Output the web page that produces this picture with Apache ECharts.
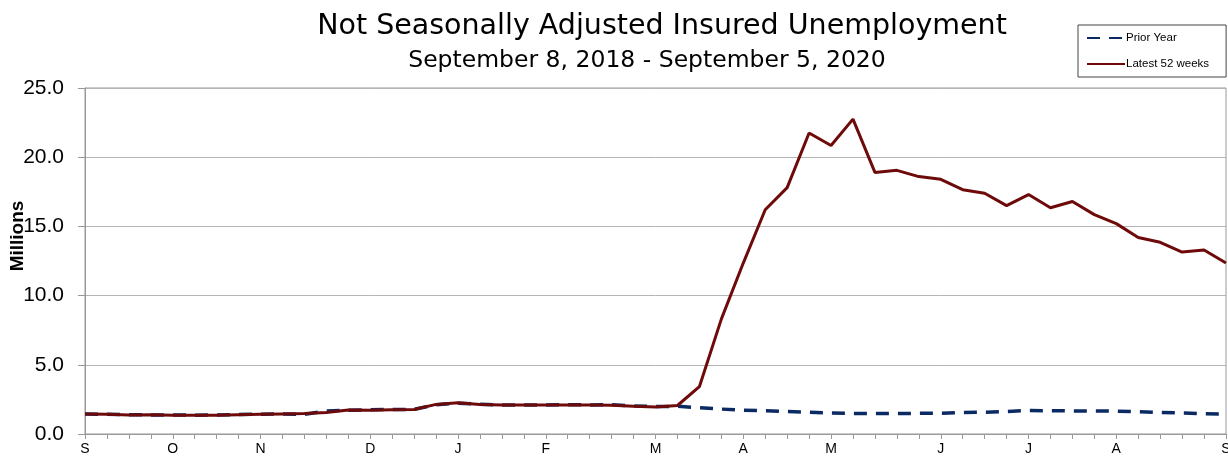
<!DOCTYPE html>
<html>
<head>
<meta charset="utf-8">
<script src="https://cdn.jsdelivr.net/npm/echarts@6/dist/echarts.min.js"></script>
<style>
html, body { margin: 0; padding: 0; background: #fff; }
#container { width: 1228px; height: 457px; }
</style>
</head>
<body>
<div id="container"></div>
<script>
// week index 0..52, labels only on the first week of each month
var weekLabels = ['S','','','','O','','','','N','','','','','D','','','','J','','','','F','','','','','M','','','','A','','','','M','','','','','J','','','','J','','','','A','','','','','S'];

var priorYear = [1.45, 1.42, 1.40, 1.37, 1.38, 1.36, 1.37, 1.40, 1.43, 1.44, 1.42, 1.66, 1.72, 1.75, 1.77, 1.78, 2.12, 2.22, 2.15, 2.10, 2.10, 2.10, 2.12, 2.10, 2.12, 2.03, 1.98, 2.00, 1.90, 1.80, 1.71, 1.68, 1.62, 1.57, 1.52, 1.49, 1.49, 1.49, 1.49, 1.50, 1.56, 1.57, 1.62, 1.70, 1.68, 1.67, 1.66, 1.65, 1.62, 1.55, 1.52, 1.46, 1.45];

var latest52 = [1.45, 1.43, 1.38, 1.39, 1.36, 1.35, 1.36, 1.39, 1.42, 1.45, 1.48, 1.56, 1.73, 1.72, 1.76, 1.77, 2.14, 2.25, 2.14, 2.10, 2.10, 2.10, 2.10, 2.09, 2.08, 2.00, 1.95, 2.06, 3.42, 8.30, 12.35, 16.20, 17.80, 21.75, 20.85, 22.75, 18.90, 19.05, 18.60, 18.40, 17.65, 17.40, 16.50, 17.30, 16.35, 16.80, 15.85, 15.20, 14.20, 13.85, 13.15, 13.30, 12.35];

var myChart = echarts.init(document.getElementById('container'));

var option = {
    backgroundColor: '#fff',
    animation: false,
    textStyle: { fontFamily: 'Liberation Sans, Arial, sans-serif' },
    title: [{
        text: 'Not Seasonally Adjusted Insured Unemployment',
        left: 657,
        top: 7,
        textAlign: 'center',
        textStyle: { fontSize: 28.5, fontWeight: 'normal', color: '#000', fontFamily: 'DejaVu Sans' }
    }, {
        text: 'September 8, 2018 - September 5, 2020',
        left: 642,
        top: 44,
        textAlign: 'center',
        textStyle: { fontSize: 23.5, fontWeight: 'normal', color: '#000', fontFamily: 'DejaVu Sans' }
    }],
    graphic: [{
        type: 'text',
        x: 18,
        y: 236,
        rotation: Math.PI / 2,
        style: {
            text: 'Millions',
            font: 'bold 19px "Liberation Sans", Arial, sans-serif',
            fill: '#000',
            textAlign: 'center',
            textVerticalAlign: 'middle'
        }
    }],
    legend: {
        orient: 'vertical',
        left: 1078,
        top: 25,
        padding: [7, 17, 7, 8],
        itemGap: 14,
        itemWidth: 38,
        itemHeight: 10,
        backgroundColor: '#fff',
        borderColor: '#444',
        borderWidth: 1,
        borderRadius: 0,
        itemStyle: { opacity: 0 },
        textStyle: { fontSize: 11.5, color: '#000', padding: [0, 0, 0, -4] },
        data: ['Prior Year', 'Latest 52 weeks']
    },
    grid: {
        left: 85,
        right: 2,
        top: 88,
        bottom: 23,
        outerBoundsMode: 'none',
        show: true,
        borderColor: '#999',
        borderWidth: 1
    },
    xAxis: {
        type: 'category',
        boundaryGap: false,
        data: weekLabels,
        axisLine: { lineStyle: { color: '#999', width: 1 } },
        axisTick: { show: true, interval: 0, length: 5, lineStyle: { color: '#999' } },
        axisLabel: {
            interval: 0,
            margin: 8,
            fontSize: 14,
            color: '#000',
            formatter: function(v) { return v; }
        },
        splitLine: { show: false }
    },
    yAxis: {
        type: 'value',
        min: 0,
        max: 25,
        interval: 5,
        axisLine: { show: true, lineStyle: { color: '#999' } },
        axisTick: { show: true, length: 7, lineStyle: { color: '#999' } },
        axisLabel: {
            fontSize: 21,
            color: '#000',
            margin: 21,
            formatter: function(v) { return v.toFixed(1); }
        },
        splitLine: { show: true, lineStyle: { color: '#b4b4b4', width: 1 } }
    },
    series: [{
        name: 'Prior Year',
        type: 'line',
        data: priorYear,
        symbol: 'none',
        smooth: false,
        lineStyle: { color: '#0b2a63', width: 3.5, type: [13, 9] },
        itemStyle: { color: '#0b2a63' },
        z: 2
    }, {
        name: 'Latest 52 weeks',
        type: 'line',
        data: latest52,
        symbol: 'none',
        smooth: false,
        lineStyle: { color: '#6e0a0a', width: 3 },
        itemStyle: { color: '#6e0a0a' },
        z: 3
    }]
};

myChart.setOption(option);
</script>
</body>
</html>
